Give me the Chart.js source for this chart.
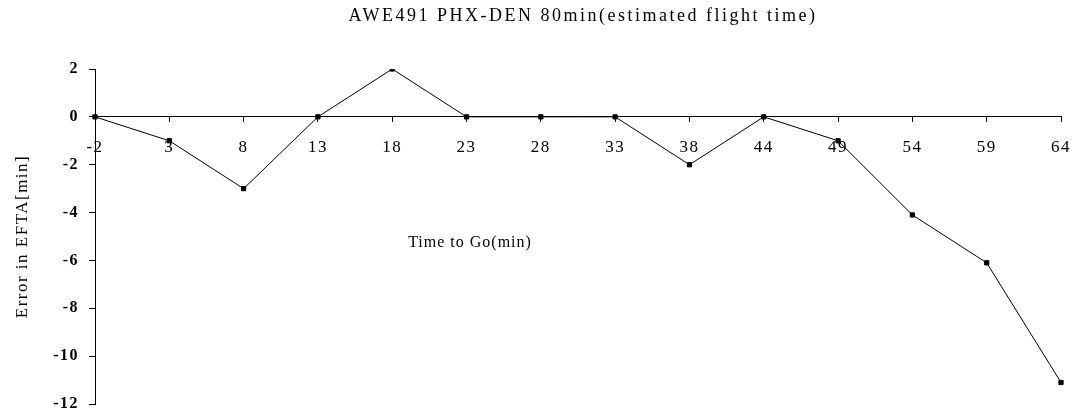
<!DOCTYPE html>
<html>
<head>
<meta charset="utf-8">
<script src="https://cdn.jsdelivr.net/npm/chart.js@4"></script>
<style>
  body { margin: 0; background: #fff; }
  #wrap { width: 1081px; height: 419px; }
</style>
</head>
<body>
<div id="wrap"><canvas id="line"></canvas></div>
<script>
var timeToGo = ['-2', '3', '8', '13', '18', '23', '28', '33', '38', '44', '49', '54', '59', '64'];
var eftaError = [0, -1, -3, 0, 2, 0, 0, 0, -2, 0, -1, -4.1, -6.1, -11.1];
var yTicks = [2, 0, -2, -4, -6, -8, -10, -12];
var chartTitle = 'AWE491 PHX-DEN 80min(estimated flight time)';

var serif = '"Liberation Serif", "DejaVu Serif", serif';

// title and the "Time to Go(min)" label drawn by hand (letter spaced like the scan)
var textBits = {
    id: 'textBits',
    beforeDraw: function (chart) {
        chart.ctx.letterSpacing = '1.5px';
    },
    afterDraw: function (chart) {
        var c = chart.ctx;
        c.save();
        c.fillStyle = '#000';
        c.textAlign = 'center';
        c.textBaseline = 'middle';
        c.letterSpacing = '2.5px';
        c.font = '18px ' + serif;
        c.fillText(chartTitle, 583, 16);
        c.letterSpacing = '1px';
        c.font = '16px ' + serif;
        c.fillText('Time to Go(min)', 470, 243);
        c.restore();
        c.letterSpacing = '0px';
    }
};

var ctx = document.getElementById('line');
var myChart = new Chart(ctx, {
    type: 'line',
    data: {
        labels: timeToGo,
        datasets: [
            {
                data: eftaError,
                borderColor: '#000',
                backgroundColor: '#000',
                borderWidth: 1,
                pointStyle: 'rect',
                pointRadius: 3,
                tension: 0
            }
        ]
    },
    options: {
        responsive: true,
        maintainAspectRatio: false,
        animation: false,
        layout: { padding: { top: 69, right: 20, bottom: 15, left: 0 } },
        plugins: {
            legend: { display: false },
            tooltip: { enabled: false },
            title: { display: false }
        },
        scales: {
            x: {
                type: 'category',
                position: { y: 0 },
                offset: false,
                afterFit: function (scale) {
                    scale.paddingLeft = 0;
                    scale.paddingRight = 0;
                },
                border: { color: '#000', width: 1 },
                grid: { display: true, drawOnChartArea: false, color: '#000', tickLength: 5 },
                ticks: {
                    color: '#000',
                    padding: 15,
                    maxRotation: 0,
                    autoSkip: false,
                    font: { family: serif, size: 17 }
                }
            },
            y: {
                min: -12,
                max: 2,
                afterBuildTicks: function (scale) {
                    scale.ticks = yTicks.map(function (v) { return { value: v }; });
                },
                afterFit: function (scale) {
                    scale.width = 95;
                    scale.paddingTop = 0;
                    scale.paddingBottom = 0;
                },
                border: { color: '#000', width: 1 },
                grid: { display: true, drawOnChartArea: false, color: '#000', tickLength: 6 },
                ticks: {
                    color: '#000',
                    padding: 10,
                    font: { family: serif, size: 16, weight: 'bold' }
                },
                title: {
                    display: true,
                    text: 'Error in EFTA[min]',
                    color: '#000',
                    font: { family: serif, size: 17 },
                    padding: { top: 12, bottom: 4 }
                }
            }
        }
    },
    plugins: [textBits]
});
</script>
</body>
</html>
